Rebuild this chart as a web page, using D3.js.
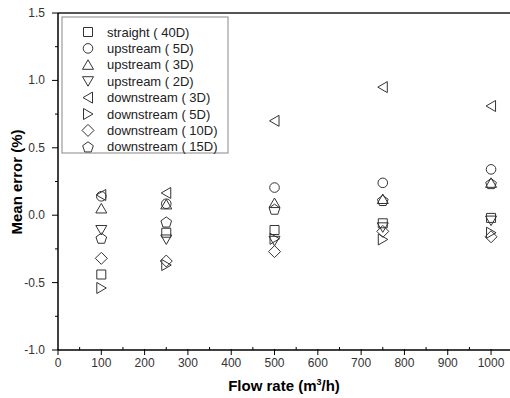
<!DOCTYPE html>
<html>
<head>
<meta charset="utf-8">
<script src="https://cdn.jsdelivr.net/npm/d3@7"></script>
<style>
  body { margin: 0; background: #fff; }
  svg { display: block; font-family: "Liberation Sans", Arial, sans-serif; }
</style>
</head>
<body>
<svg width="510" height="398"></svg>
<script>
const flow = [100, 250, 500, 750, 1000];

const straight40   = [-0.44, -0.13, -0.11, -0.06, -0.02];
const upstream5    = [0.14, 0.085, 0.205, 0.24, 0.34];
const upstream3    = [0.05, 0.08, 0.09, 0.12, 0.24];
const upstream2    = [-0.11, -0.18, -0.19, -0.09, -0.04];
const downstream3  = [0.15, 0.165, 0.70, 0.95, 0.81];
const downstream5  = [-0.54, -0.37, -0.175, -0.18, -0.13];
const downstream10 = [-0.32, -0.34, -0.27, -0.12, -0.16];
const downstream15 = [-0.17, -0.05, 0.045, 0.11, 0.235];

const seriesNames = ["straight ( 40D)", "upstream ( 5D)", "upstream ( 3D)", "upstream ( 2D)",
                     "downstream ( 3D)", "downstream ( 5D)", "downstream ( 10D)", "downstream ( 15D)"];
const seriesValues = [straight40, upstream5, upstream3, upstream2,
                      downstream3, downstream5, downstream10, downstream15];
const seriesShapes = ["square", "circle", "up", "down", "left", "right", "diamond", "pentagon"];

const xTicks = d3.range(0, 1001, 100);
const yTicks = [-1.0, -0.5, 0.0, 0.5, 1.0, 1.5];

// marker outlines, centred on 0,0
function shapePath(kind) {
    const p = d3.path();
    const poly = pts => {
        p.moveTo(pts[0][0], pts[0][1]);
        pts.slice(1).forEach(q => p.lineTo(q[0], q[1]));
        p.closePath();
    };
    if (kind === "square") poly([[-4.5, -4.5], [4.5, -4.5], [4.5, 4.5], [-4.5, 4.5]]);
    else if (kind === "circle") { p.moveTo(4.8, 0); p.arc(0, 0, 4.8, 0, 2 * Math.PI); }
    else if (kind === "up") poly([[0, -5], [5.5, 4.5], [-5.5, 4.5]]);
    else if (kind === "down") poly([[0, 5], [5.5, -4.5], [-5.5, -4.5]]);
    else if (kind === "left") poly([[-5, 0], [4.5, -5.5], [4.5, 5.5]]);
    else if (kind === "right") poly([[5, 0], [-4.5, -5.5], [-4.5, 5.5]]);
    else if (kind === "diamond") poly([[0, -6], [6, 0], [0, 6], [-6, 0]]);
    else if (kind === "pentagon") {
        const r = 5.6;
        poly(d3.range(5).map(i => {
            const a = -Math.PI / 2 + i * 2 * Math.PI / 5;
            return [r * Math.cos(a), r * Math.sin(a) + 0.6];
        }));
    }
    return p.toString();
}

const svg = d3.select("svg");
const x = d3.scaleLinear().domain([0, 1050]).range([58, 512.7]);
const y = d3.scaleLinear().domain([-1, 1.5]).range([350, 13]);

// top frame line
svg.append("line")
    .attr("x1", x(0)).attr("x2", 510)
    .attr("y1", y(1.5)).attr("y2", y(1.5))
    .attr("stroke", "#555").attr("stroke-width", 2);

// x axis
const xAxis = svg.append("g").attr("transform", `translate(0,${y(-1)})`);
xAxis.append("line").attr("x1", x(0)).attr("x2", 510).attr("stroke", "#000").attr("stroke-width", 1.5);
xAxis.selectAll("line.minor")
    .data(d3.range(50, 1050, 100))
    .enter().append("line")
    .attr("class", "minor")
    .attr("x1", d => x(d)).attr("x2", d => x(d))
    .attr("y1", -3).attr("y2", 0)
    .attr("stroke", "#000");
xAxis.selectAll("line.major")
    .data(xTicks)
    .enter().append("line")
    .attr("class", "major")
    .attr("x1", d => x(d)).attr("x2", d => x(d))
    .attr("y1", -1).attr("y2", 5)
    .attr("stroke", "#000");
xAxis.selectAll("text")
    .data(xTicks)
    .enter().append("text")
    .attr("x", d => x(d)).attr("y", 17)
    .attr("text-anchor", "middle")
    .attr("font-size", 12).attr("fill", "#333")
    .text(d => d);

// y axis
const yAxis = svg.append("g").attr("transform", `translate(${x(0)},0)`);
yAxis.append("line").attr("y1", y(-1)).attr("y2", y(1.5)).attr("stroke", "#000").attr("stroke-width", 1.5);
yAxis.selectAll("line.minor")
    .data(d3.range(-0.75, 1.5, 0.5))
    .enter().append("line")
    .attr("class", "minor")
    .attr("y1", d => y(d)).attr("y2", d => y(d))
    .attr("x1", -3).attr("x2", 0)
    .attr("stroke", "#000");
yAxis.selectAll("line.major")
    .data(yTicks)
    .enter().append("line")
    .attr("class", "major")
    .attr("y1", d => y(d)).attr("y2", d => y(d))
    .attr("x1", -6).attr("x2", 0)
    .attr("stroke", "#000");
yAxis.selectAll("text")
    .data(yTicks)
    .enter().append("text")
    .attr("x", -13).attr("y", d => y(d) + 4)
    .attr("text-anchor", "end")
    .attr("font-size", 12).attr("fill", "#333")
    .text(d => d.toFixed(1));

// axis titles
svg.append("text")
    .attr("x", 284).attr("y", 391)
    .attr("text-anchor", "middle")
    .attr("font-size", 15).attr("font-weight", "bold")
    .html("Flow rate (m<tspan dy='-6' font-size='9'>3</tspan><tspan dy='6'>/h)</tspan>");
svg.append("text")
    .attr("transform", "translate(22,182) rotate(-90)")
    .attr("text-anchor", "middle")
    .attr("font-size", 15).attr("font-weight", "bold")
    .text("Mean error (%)");

// points
seriesValues.forEach((vals, si) => {
    svg.append("g").selectAll("path")
        .data(vals)
        .enter().append("path")
        .attr("transform", (d, i) => `translate(${x(flow[i])},${y(d)})`)
        .attr("d", shapePath(seriesShapes[si]))
        .attr("fill", "none")
        .attr("stroke", "#333")
        .attr("stroke-width", 1);
});

// legend
const legend = svg.append("g");
legend.append("rect")
    .attr("x", 62).attr("y", 17).attr("width", 166).attr("height", 136)
    .attr("fill", "#fff").attr("stroke", "#888");
seriesNames.forEach((name, i) => {
    const ly = 32 + i * 16.4;
    legend.append("path")
        .attr("transform", `translate(88,${ly})`)
        .attr("d", shapePath(seriesShapes[i]))
        .attr("fill", "none").attr("stroke", "#333");
    legend.append("text")
        .attr("x", 107).attr("y", ly + 4.5)
        .attr("font-size", 13).attr("fill", "#222")
        .text(name);
});
</script>
</body>
</html>
